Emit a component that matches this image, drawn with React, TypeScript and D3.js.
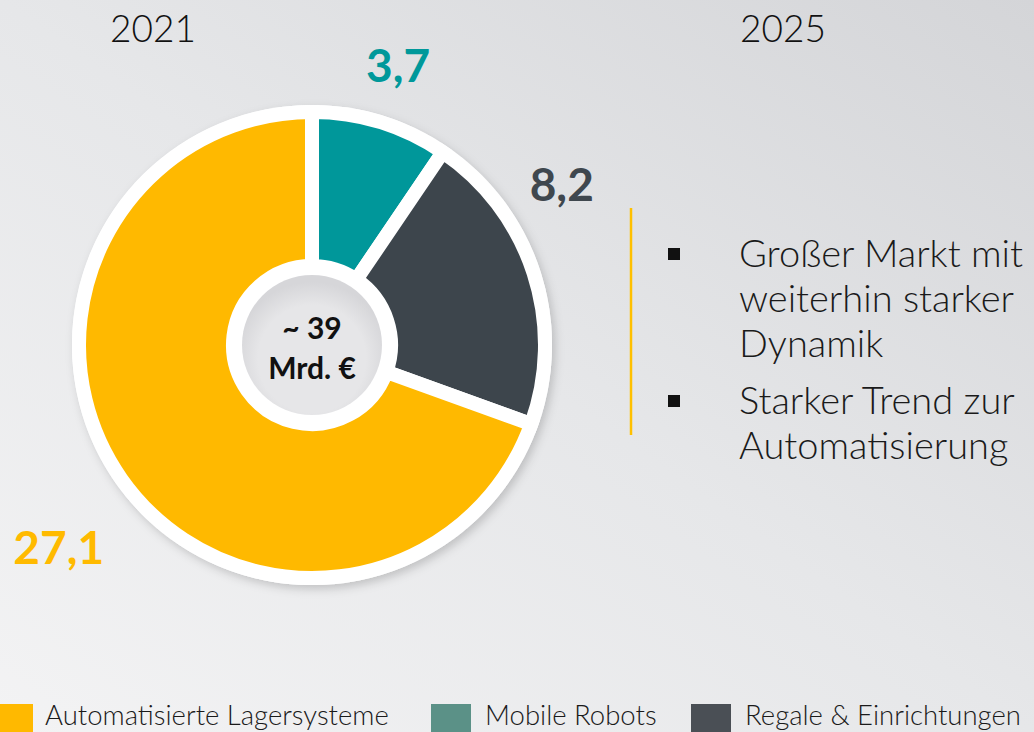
import React from 'react';
import * as d3 from 'd3';

const W = 1034;
const H = 732;

// Market segments 2021 (Mrd. €)
const SEGMENTS = ['Mobile Robots', 'Regale & Einrichtungen', 'Automatisierte Lagersysteme'];
const VALUES = [3.7, 8.2, 27.1];
const SLICE_COLORS = ['#00979a', '#3d454c', '#ffb900'];
const LABEL_COLORS = ['#00989a', '#3f474e', '#ffba00'];

const LEGEND_NAMES = ['Automatisierte Lagersysteme', 'Mobile Robots', 'Regale & Einrichtungen'];
const LEGEND_COLORS = ['#ffb900', '#5b9187', '#4a4f55'];
const LEGEND_X = [0, 431, 691]; // layout only

const YEARS = ['2021', '2025'];
const TOTAL_LINES = ['~ 39', 'Mrd. €'];
const BULLETS = [
  ['Großer Markt mit', 'weiterhin starker', 'Dynamik'],
  ['Starker Trend zur', 'Automatisierung'],
];

const fmt = (v: number) => d3.format('.1f')(v).replace('.', ',');

export default function App() {
  const cx = 312;
  const cy = 345;

  const pie = d3.pie<number>().sort(null).value(d => d).startAngle(0).endAngle(2 * Math.PI);
  const arcs = pie(VALUES);

  // colored ring, white stroke produces the gaps
  const arc = d3.arc<d3.PieArcDatum<number>>().innerRadius(79).outerRadius(233);
  // where along each slice (0..1) and how far out the value label sits
  const labelFrac = [0.5, 0.305, 0.486];
  const labelRadius = [293, 297, 324];

  const font = 'Lato, "Open Sans", "DejaVu Sans", sans-serif';

  let lineY = 267;
  const bulletRows: { text: string; y: number; first: boolean }[] = [];
  BULLETS.forEach((b, bi) => {
    if (bi > 0) lineY += 12;
    b.forEach((t, i) => {
      bulletRows.push({ text: t, y: lineY, first: i === 0 });
      lineY += 45;
    });
  });

  return (
    <svg width={W} height={H} style={{ position: 'absolute', left: 0, top: 0, display: 'block' }}>
      <defs>
        <linearGradient id="bg" x1="0" y1="1" x2="1" y2="0">
          <stop offset="0" stopColor="#f3f3f4" />
          <stop offset="0.5" stopColor="#e6e7e9" />
          <stop offset="1" stopColor="#d4d5d8" />
        </linearGradient>
        <radialGradient id="hole" cx="0.5" cy="0.6" r="0.55">
          <stop offset="0.7" stopColor="#e6e6e8" />
          <stop offset="1" stopColor="#d6d6d9" />
        </radialGradient>
        <filter id="shadow" x="-20%" y="-20%" width="140%" height="140%">
          <feDropShadow dx="3" dy="4" stdDeviation="5" floodColor="#000" floodOpacity="0.18" />
        </filter>
      </defs>
      <rect width={W} height={H} fill="url(#bg)" />

      {YEARS.map((y, i) => (
        <text key={y} x={i === 0 ? 153 : 783} y={42} textAnchor="middle"
          fontFamily={font} fontWeight={300} fontSize={37} fill="#111">{y}</text>
      ))}

      <g transform={`translate(${cx},${cy})`}>
        <circle r={240} fill="#fff" filter="url(#shadow)" />
        {arcs.map((a, i) => (
          <path key={SEGMENTS[i]} d={arc(a) || ''} fill={SLICE_COLORS[i]}
            stroke="#fff" strokeWidth={14} strokeLinejoin="miter" />
        ))}
        <circle r={70} fill="url(#hole)" />
        {TOTAL_LINES.map((t, i) => (
          <text key={t} y={-6 + i * 40} textAnchor="middle" fontFamily={font}
            fontWeight={700} fontSize={30} fill="#111">{t}</text>
        ))}
        {arcs.map((a, i) => {
          const ang = a.startAngle + (a.endAngle - a.startAngle) * labelFrac[i];
          const r = labelRadius[i];
          return (
            <text key={'l' + i} x={Math.sin(ang) * r} y={-Math.cos(ang) * r + 17}
              textAnchor="middle" fontFamily={font} fontWeight={700} fontSize={46}
              fill={LABEL_COLORS[i]}>{fmt(VALUES[i])}</text>
          );
        })}
      </g>

      <line x1={631} x2={631} y1={208} y2={435} stroke="#ffc000" strokeWidth={2.5} />
      {bulletRows.map((r, i) => (
        <g key={i}>
          {r.first && <rect x={668} y={r.y - 19} width={12} height={12} fill="#111" />}
          <text x={739} y={r.y} fontFamily={font} fontWeight={300} fontSize={38} fill="#1a1a1a">{r.text}</text>
        </g>
      ))}

      {LEGEND_NAMES.map((n, i) => (
        <g key={n}>
          <rect x={LEGEND_X[i]} y={704} width={i === 0 ? 33 : 40} height={30} fill={LEGEND_COLORS[i]} />
          <text x={LEGEND_X[i] + (i === 0 ? 45 : 54)} y={725} fontFamily={font} fontWeight={300}
            fontSize={27.5} fill="#1a1a1a">{n}</text>
        </g>
      ))}
    </svg>
  );
}
